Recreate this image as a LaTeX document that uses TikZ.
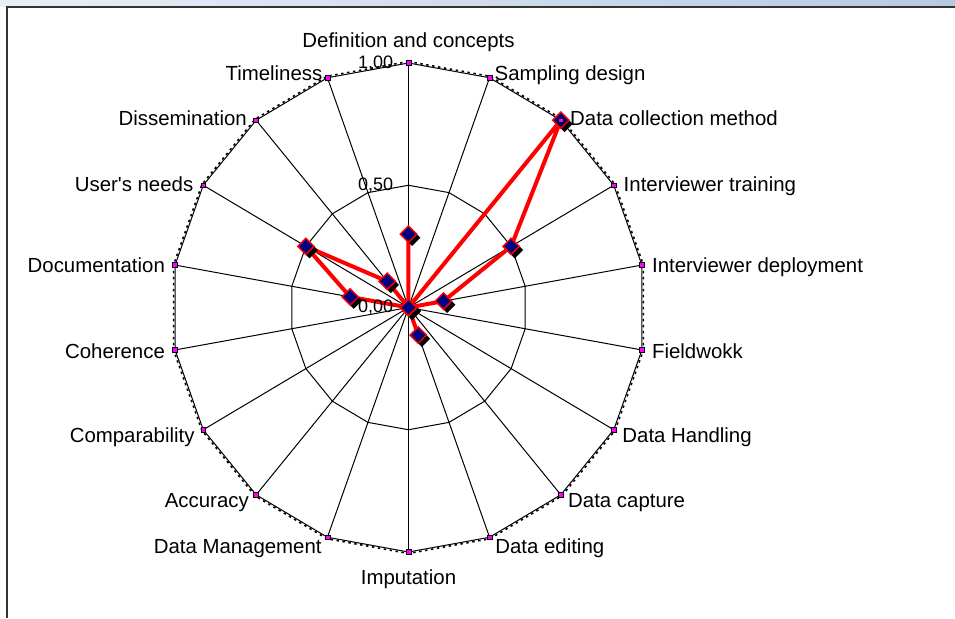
\documentclass[tikz,border=0pt]{standalone}
\usepackage{fontspec}
\setmainfont{Liberation Sans}[Ligatures=TeXOff]
\usetikzlibrary{shapes.geometric}
\definecolor{navyblue}{HTML}{000080}
\definecolor{chartmagenta}{HTML}{FF00FF}
\definecolor{bandleft}{HTML}{E9EFF8}
\definecolor{bandright}{HTML}{B7C9E3}
\definecolor{framegray}{HTML}{333333}

\begin{document}
\begin{tikzpicture}[x=0.5pt,y=0.5pt,
        spokeline/.style = {draw=black, line width=0.5pt},
        outerdash/.style = {draw=black, line width=0.8pt,
          dash pattern=on 1.2pt off 1.8pt},
        qualityline/.style = {draw=red, line width=2pt, line join=round},
        qualitypoint/.style = {shape=diamond, fill=navyblue, draw=red,
          line width=0.7pt, inner sep=0pt,
          minimum width=8.5pt, minimum height=8.5pt},
        pointshadow/.style = {shape=diamond, fill=black, inner sep=0pt,
          minimum width=8.5pt, minimum height=8.5pt},
        endbox/.style = {shape=rectangle, fill=chartmagenta, draw=black,
          line width=0.3pt, inner sep=0pt, minimum size=2.4pt},
        ticktext/.style = {shape=rectangle, inner sep=0pt, anchor=east,
          font=\fontsize{9}{10}\selectfont},
        axistext/.style = {shape=rectangle, inner sep=0pt,
          font=\fontsize{10.2}{12}\selectfont}]
    \useasboundingbox (-408.5,307.5) rectangle (546.5,-310.5);
    \fill[white] (-408.5,307.5) rectangle (546.5,-310.5);
    \shade[left color=bandleft, right color=bandright]
        (-408.5,307.5) rectangle (546.5,301.5);
    \draw[framegray, line width=1pt] (-401.5,-310.5) -- (-401.5,301) -- (546.5,301);

    \coordinate (c) at (0,0);
    \foreach \i in {0,...,17} {
        \coordinate (p\i) at (90-20*\i:237 and 244.5);
        \coordinate (h\i) at (90-20*\i:118.5 and 122.25);
        \coordinate (q\i) at (90-20*\i:238.5 and 246);
    }
    \foreach \i in {0,...,17}
        \draw[spokeline] (c) -- (p\i);
    \draw[spokeline] (h0) \foreach \i in {1,...,17} {-- (h\i)} -- cycle;
    \draw[spokeline] (p0) \foreach \i in {1,...,17} {-- (p\i)} -- cycle;
    \draw[outerdash] (q0) \foreach \i in {1,...,17} {-- (q\i)} -- cycle;

    \foreach \i/\v in {0/0.3,1/0,2/1,3/0.5,4/0.15,5/0,6/0,7/0,8/0.12,
                       9/0,10/0,11/0,12/0,13/0,14/0.25,15/0.5,16/0.14,17/0}
        \coordinate (v\i) at ({237*\v*cos(90-20*\i)},{244.5*\v*sin(90-20*\i)});
    \draw[qualityline] (v0) \foreach \i in {1,...,17} {-- (v\i)} -- cycle;
    \foreach \i in {0,...,17}
        \node[pointshadow] (s\i) at ([shift={(1.8pt,-1.8pt)}]v\i) {};
    \foreach \i in {0,...,17}
        \node[qualitypoint] (d\i) at (v\i) {};
    \foreach \i in {0,...,17}
        \node[endbox] (e\i) at (p\i) {};

    \node[ticktext] (t100) at ([xshift=-7.5pt]p0) {1,00};
    \node[ticktext] (t50) at ([xshift=-7.5pt]h0) {0,50};
    \node[ticktext] (t0) at ([xshift=-7.5pt]c) {0,00};

    \foreach \i/\txt/\anc/\dx/\dy in {
            0/Definition and concepts/base/0/7.85,
            1/Sampling design/base west/2.35/-1.15,
            2/Data collection method/base west/4.5/-2.4,
            3/Interviewer training/base west/4.8/-3.2,
            4/Interviewer deployment/base west/4.9/-3.85,
            5/Fieldwokk/base west/4.9/-4.15,
            6/Data Handling/base west/4.15/-6.5,
            7/Data capture/base west/3.5/-6.5,
            8/Data editing/base west/2.7/-8,
            9/Imputation/base/0/-16,
            10/Data Management/base east/-2.7/-8,
            11/Accuracy/base east/-3.5/-6.5,
            12/Comparability/base east/-4.15/-6.5,
            13/Coherence/base east/-4.9/-4.15,
            14/Documentation/base east/-4.9/-3.85,
            15/User's needs/base east/-4.8/-3.2,
            16/Dissemination/base east/-4.5/-2.4,
            17/Timeliness/base east/-2.35/-1.15}
        \node[axistext, anchor=\anc, xshift=\dx pt, yshift=\dy pt] (l\i) at (p\i) {\txt};
\end{tikzpicture}
\end{document}
